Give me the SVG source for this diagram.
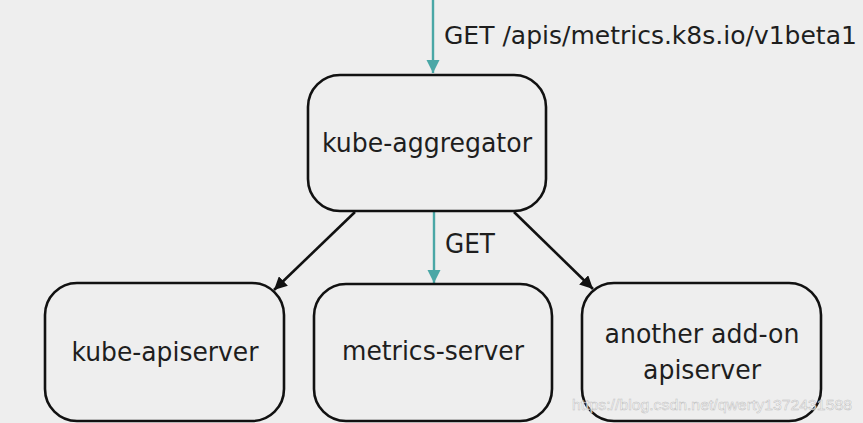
<svg xmlns="http://www.w3.org/2000/svg" width="863" height="423" viewBox="0 0 863 423">
  <defs>
    <marker id="ah-teal" viewBox="0 0 10 10" refX="10" refY="5" markerWidth="5.5" markerHeight="5.5" markerUnits="strokeWidth" orient="auto">
      <path d="M0,0 L10,5 L0,10 z" fill="#4aa7a6"/>
    </marker>
    <marker id="ah-black" viewBox="0 0 10 10" refX="10" refY="5" markerWidth="5" markerHeight="5" markerUnits="strokeWidth" orient="auto">
      <path d="M0,0 L10,5 L0,10 z" fill="#111"/>
    </marker>
  </defs>
  <style>
    .box { fill: #eeeeee; stroke: #111; stroke-width: 2.6; }
    .lbl { font-family: "DejaVu Sans", "Liberation Sans", sans-serif; font-size: 27px; fill: #1e1e1e; text-anchor: middle; }
    .elbl { font-family: "DejaVu Sans", "Liberation Sans", sans-serif; font-size: 27px; fill: #1e1e1e; }
    .teal { stroke: #4aa7a6; stroke-width: 2.4; fill: none; marker-end: url(#ah-teal); }
    .blk { stroke: #111; stroke-width: 2.6; fill: none; marker-end: url(#ah-black); }
  </style>
  <rect x="0" y="0" width="863" height="423" fill="#eeeeee"/>

  <g id="connectors">
    <line class="teal" x1="433" y1="0" x2="433" y2="73"/>
    <text class="elbl" x="444" y="44" style="font-size:25px">GET /apis/metrics.k8s.io/v1beta1</text>
    <line class="blk" x1="355" y1="212" x2="274" y2="290"/>
    <line class="teal" x1="434" y1="212" x2="434" y2="283"/>
    <text class="elbl" x="445" y="253" textLength="50" lengthAdjust="spacingAndGlyphs">GET</text>
    <line class="blk" x1="514" y1="212" x2="593" y2="289"/>
  </g>

  <g id="kube-aggregator">
    <rect class="box" x="308" y="75" width="238" height="136" rx="32" ry="32"/>
    <text class="lbl" x="427" y="152" textLength="210" lengthAdjust="spacingAndGlyphs">kube-aggregator</text>
  </g>

  <g id="kube-apiserver">
    <rect class="box" x="45" y="283" width="239" height="138" rx="32" ry="32"/>
    <text class="lbl" x="165" y="361" textLength="187" lengthAdjust="spacingAndGlyphs">kube-apiserver</text>
  </g>

  <g id="metrics-server">
    <rect class="box" x="314" y="284" width="238" height="137" rx="32" ry="32"/>
    <text class="lbl" x="433" y="360" textLength="182" lengthAdjust="spacingAndGlyphs">metrics-server</text>
  </g>

  <g id="another-addon-apiserver">
    <rect class="box" x="582" y="283" width="239" height="138" rx="32" ry="32"/>
    <text class="lbl" x="702" y="343" textLength="195" lengthAdjust="spacingAndGlyphs">another add-on</text>
    <text class="lbl" x="702" y="379" textLength="118" lengthAdjust="spacingAndGlyphs">apiserver</text>
  </g>

  <text x="572" y="410" font-family="Liberation Sans, Arial, sans-serif" font-size="15" fill="#ffffff" stroke="#b8b8b8" stroke-width="0.5" opacity="0.85" textLength="280" lengthAdjust="spacingAndGlyphs">https://blog.csdn.net/qwerty1372431588</text>
</svg>
